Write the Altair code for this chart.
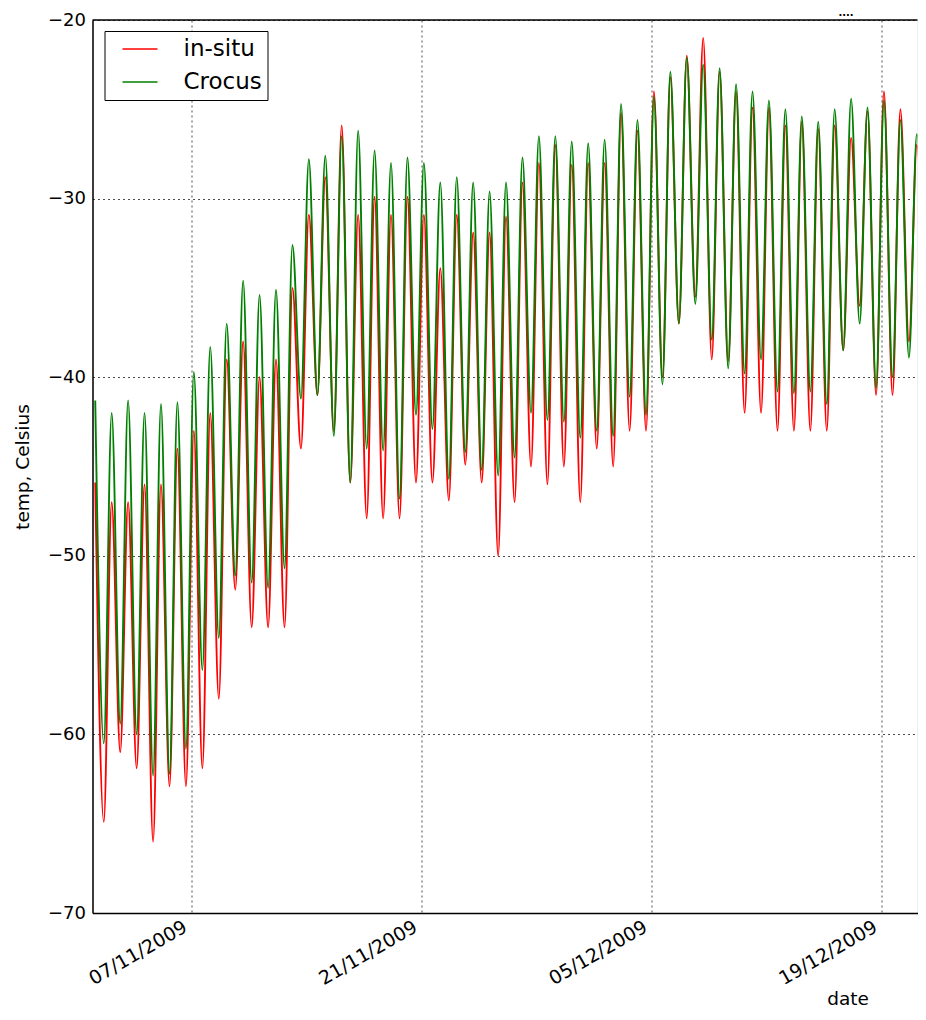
import altair as alt
import pandas as pd

# ---- data (daily extremes, deg C) ----
start_date = "2009-11-01"
day_index = list(range(51))
peak_hour = 4.0      # time of the daily maximum (UTC hours)
min_hour = 16.5      # time of the daily minimum (UTC hours)

insitu_max = [-45.9, -47.0, -47.0, -46.0, -46.0, -44.0, -43.0, -42.0, -39.0, -38.0,
              -40.0, -39.0, -35.0, -30.9, -28.8, -25.9, -30.9, -29.9, -30.9, -29.9,
              -30.9, -33.9, -30.9, -31.9, -31.9, -31.0, -29.1, -28.0, -27.0, -28.1,
              -28.0, -28.0, -25.2, -26.2, -24.0, -23.2, -22.0, -21.0, -22.9, -24.0,
              -24.9, -24.9, -25.9, -25.7, -26.1, -25.9, -26.6, -25.1, -24.0, -25.0,
              -27.0]
insitu_min = [-64.9, -61.0, -61.9, -66.0, -62.9, -62.9, -61.9, -58.0, -51.9, -54.0,
              -54.0, -54.0, -44.0, -41.0, -43.0, -45.9, -47.9, -47.9, -47.9, -45.9,
              -45.9, -46.9, -44.9, -45.9, -50.0, -47.0, -45.0, -46.0, -45.0, -47.0,
              -44.0, -45.0, -43.0, -43.0, -40.0, -37.0, -35.5, -39.0, -39.1, -42.0,
              -42.0, -43.0, -43.0, -43.0, -43.0, -38.5, -36.0, -41.0, -41.0, -38.0,
              -40.0]
crocus_max = [-41.3, -42.0, -41.3, -42.0, -41.5, -41.4, -39.7, -38.3, -37.0, -34.6,
              -35.4, -35.1, -32.6, -27.8, -27.6, -26.5, -26.2, -27.3, -28.0, -27.7,
              -28.0, -29.1, -28.8, -29.1, -29.6, -29.1, -27.7, -26.5, -26.5, -26.8,
              -26.9, -26.7, -24.7, -25.6, -24.3, -22.9, -22.1, -22.5, -22.7, -23.6,
              -24.0, -24.5, -25.0, -25.4, -25.7, -25.0, -24.4, -24.9, -24.5, -25.6,
              -26.4]
crocus_min = [-60.5, -59.4, -60.0, -62.3, -62.2, -60.8, -56.4, -54.6, -51.1, -51.5,
              -51.8, -50.7, -41.2, -41.0, -43.3, -45.9, -44.0, -44.1, -46.8, -42.1,
              -42.9, -45.7, -44.2, -45.2, -45.5, -44.5, -42.0, -42.4, -42.5, -43.4,
              -43.0, -43.3, -41.1, -42.1, -40.4, -37.0, -35.9, -37.9, -39.5, -39.8,
              -39.0, -40.8, -40.9, -40.8, -41.5, -38.5, -37.0, -40.6, -40.0, -38.9,
              -39.0]

series_names = ["in-situ", "Crocus"]
series_colors = ["#ff0000", "#008000"]

y_ticks = [-70, -60, -50, -40, -30, -20]

# truncated figure title visible at the top right of the reference
title_text = ["...."]

# ---- build the long table ----
t0 = pd.Timestamp(start_date)
rows = []
for name, mx, mn in [("in-situ", insitu_max, insitu_min), ("Crocus", crocus_max, crocus_min)]:
    for d, a, b in zip(day_index, mx, mn):
        rows.append({"time": (t0 + pd.Timedelta(days=d, hours=peak_hour)).strftime("%Y-%m-%dT%H:%M:%S"),
                     "temp": a, "series": name})
        rows.append({"time": (t0 + pd.Timedelta(days=d, hours=min_hour)).strftime("%Y-%m-%dT%H:%M:%S"),
                     "temp": b, "series": name})
df = pd.DataFrame(rows)

FONT = "DejaVu Sans"

x_enc = alt.X(
    "time:T",
    scale=alt.Scale(domain=[alt.DateTime(year=2009, month=11, date=1),
                            alt.DateTime(year=2009, month=12, date=21, hours=5)]),
    axis=alt.Axis(
        values=[alt.DateTime(year=2009, month=11, date=7),
                alt.DateTime(year=2009, month=11, date=21),
                alt.DateTime(year=2009, month=12, date=5),
                alt.DateTime(year=2009, month=12, date=19)],
        format="%d/%m/%Y",
        labelAngle=-30, labelAlign="right", labelBaseline="middle",
        labelPadding=12, labelOffset=-6, labelFontSize=19, labelFont=FONT, labelColor="black",
        ticks=False, tickSize=0,
        grid=True, gridDash=[2, 3], gridColor="black", gridWidth=0.7, gridOpacity=1,
        domainColor="black", domainWidth=1.5,
        title="date", titleFont=FONT, titleFontSize=18.5, titleFontWeight="normal",
        titleX=755, titleY=85, titleAlign="center", titleBaseline="middle", titleAngle=0,
        titleColor="black",
        labelOverlap=False, labelFlush=False,
    ),
)

y_enc = alt.Y(
    "temp:Q",
    scale=alt.Scale(domain=[-70, -20], nice=False, zero=False),
    axis=alt.Axis(
        values=y_ticks, format="d",
        labelFontSize=18, labelFont=FONT, labelColor="black", labelPadding=7,
        ticks=False, tickSize=0,
        grid=True, gridDash=[2, 3], gridColor="black", gridWidth=0.7, gridOpacity=1,
        domainColor="black", domainWidth=1.5,
        title="temp, Celsius", titleFont=FONT, titleFontSize=18.5, titleFontWeight="normal",
        titleX=-70, titleY=446.5, titleAngle=-90, titleAlign="center", titleBaseline="middle",
        titleColor="black",
        labelOverlap=False, labelFlush=False,
    ),
)

color_enc = alt.Color(
    "series:N",
    scale=alt.Scale(domain=series_names, range=series_colors),
    legend=alt.Legend(
        title=None, orient="none", legendX=12, legendY=11,
        symbolType="stroke", symbolSize=1225, symbolStrokeWidth=1.5,
        symbolOffset=12, labelOffset=25,
        labelFont=FONT, labelFontSize=23, labelColor="black",
        padding=5, clipHeight=26, rowPadding=7,
        strokeColor="black", fillColor="white", cornerRadius=0,
    ),
)

base = alt.Chart(df).encode(x=x_enc, y=y_enc, color=color_enc)

red_line = base.transform_filter(alt.datum.series == "in-situ").mark_line(
    interpolate="monotone", strokeWidth=1.9, clip=True)
green_line = base.transform_filter(alt.datum.series == "Crocus").mark_line(
    interpolate="monotone", strokeWidth=1.9, clip=True)

top_spine = alt.Chart(pd.DataFrame({"a": [0]})).mark_rule(
    color="black", strokeWidth=1.5).encode(y=alt.datum(-20))

title_mark = alt.Chart(pd.DataFrame({"t": title_text})).mark_text(
    dy=-4, baseline="alphabetic", align="center", fontSize=10, fontWeight="bold",
    font=FONT, color="black").encode(
    x=alt.datum(alt.DateTime(year=2009, month=12, date=16, hours=20, minutes=40)),
    y=alt.datum(-20),
    text="t:N",
)

chart = alt.layer(red_line, green_line, top_spine, title_mark).properties(
    width=825, height=893,
    autosize=alt.AutoSizeParams(type="none"),
    padding={"left": 84.5, "top": 12, "right": 0, "bottom": 98},
).configure_view(stroke=None).configure(font=FONT, background="white")

chart.save("out.html", embed_options={"renderer": "svg", "actions": False})
